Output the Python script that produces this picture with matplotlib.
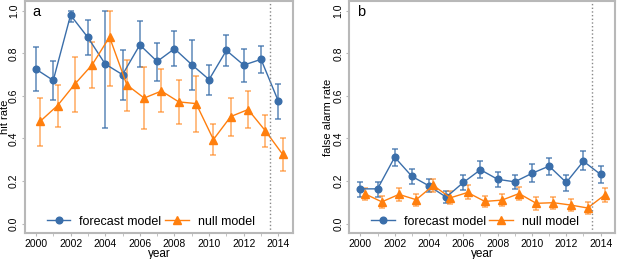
import matplotlib.pyplot as plt
import numpy as np

plt.rcParams.update({'font.family': ['Liberation Sans', 'DejaVu Sans']})

years = np.arange(2000, 2015)

# panel a: hit rate
hit_fc = [0.726, 0.673, 0.98, 0.875, 0.75, 0.70, 0.84, 0.762, 0.822, 0.747, 0.677, 0.814, 0.745, 0.772, 0.575]
hit_fc_hi = [0.83, 0.766, 1.0, 0.956, 1.0, 0.817, 0.95, 0.85, 0.905, 0.861, 0.747, 0.886, 0.822, 0.836, 0.656]
hit_fc_lo = [0.625, 0.58, 0.947, 0.794, 0.45, 0.583, 0.734, 0.672, 0.742, 0.63, 0.606, 0.742, 0.666, 0.708, 0.492]
hit_null = [0.481, 0.555, 0.656, 0.747, 0.877, 0.652, 0.59, 0.623, 0.572, 0.564, 0.395, 0.503, 0.536, 0.436, 0.325]
hit_null_hi = [0.592, 0.65, 0.784, 0.855, 1.0, 0.77, 0.736, 0.727, 0.675, 0.694, 0.467, 0.592, 0.625, 0.508, 0.403]
hit_null_lo = [0.364, 0.456, 0.525, 0.639, 0.645, 0.528, 0.444, 0.523, 0.466, 0.431, 0.322, 0.412, 0.448, 0.361, 0.247]

# panel b: false alarm rate
fa_fc = [0.163, 0.163, 0.312, 0.222, 0.177, 0.124, 0.193, 0.253, 0.208, 0.196, 0.236, 0.27, 0.193, 0.293, 0.231]
fa_fc_hi = [0.196, 0.196, 0.351, 0.258, 0.208, 0.154, 0.227, 0.292, 0.244, 0.23, 0.278, 0.31, 0.23, 0.339, 0.272]
fa_fc_lo = [0.127, 0.127, 0.272, 0.188, 0.146, 0.096, 0.158, 0.216, 0.174, 0.163, 0.196, 0.228, 0.155, 0.252, 0.191]
fa_null = [0.14, 0.102, 0.137, 0.112, 0.179, 0.121, 0.146, 0.104, 0.11, 0.141, 0.095, 0.098, 0.087, 0.073, 0.135]
fa_null_hi = [0.169, 0.129, 0.166, 0.14, 0.208, 0.151, 0.179, 0.13, 0.14, 0.174, 0.124, 0.127, 0.115, 0.102, 0.169]
fa_null_lo = [0.109, 0.075, 0.106, 0.084, 0.149, 0.093, 0.115, 0.078, 0.082, 0.109, 0.065, 0.07, 0.059, 0.047, 0.102]

blue = '#3a6eaa'
orange = '#ff7f0e'
frame = '#b8b8b8'


def panel(ax, fc, fc_lo, fc_hi, nu, nu_lo, nu_hi, ylabel, letter, ylab_x):
    fc = np.array(fc); nu = np.array(nu)
    ax.errorbar(years, fc, yerr=[fc - np.array(fc_lo), np.array(fc_hi) - fc], fmt='none',
                ecolor=blue, alpha=0.75, elinewidth=1.2, capsize=2, capthick=1.2)
    ax.errorbar(years + 0.25, nu, yerr=[nu - np.array(nu_lo), np.array(nu_hi) - nu], fmt='none',
                ecolor=orange, alpha=0.6, elinewidth=1.2, capsize=2, capthick=1.2)
    ax.plot(years, fc, color=blue, lw=1, marker='o', ms=4.8, label='forecast model')
    ax.plot(years + 0.25, nu, color=orange, lw=1, marker='^', ms=5.5, label='null model')
    ax.axvline(2013.5, color='#888888', ls=':', lw=1)
    ax.set_xlim(1999.35, 2014.85)
    ax.set_ylim(-0.045, 1.045)
    ax.set_xticks(np.arange(2000, 2015, 2))
    ax.set_xticks(np.arange(2000, 2015, 1), minor=True)
    ax.set_yticks(np.arange(0, 1.01, 0.2))
    ax.set_yticklabels(['{:.1f}'.format(v) for v in np.arange(0, 1.01, 0.2)], rotation=90, va='center')
    ax.tick_params(axis='both', labelsize=7.5, length=2.5, color=frame, pad=1.5)
    ax.tick_params(axis='x', which='minor', length=2.5, color=frame)
    for s in ax.spines.values():
        s.set_color(frame)
        s.set_linewidth(1.5)
    ax.set_xlabel('year', fontsize=8.5)
    ax.xaxis.set_label_coords(0.5, -0.09)
    ax.xaxis.label.set_va('center')
    ax.set_ylabel(ylabel, fontsize=8)
    ax.yaxis.set_label_coords(ylab_x, 0.5)
    ax.yaxis.label.set_va('center')
    ax.text(0.03, 0.985, letter, transform=ax.transAxes, fontsize=10.5, va='top', ha='left')
    ax.legend(loc='lower left', bbox_to_anchor=(0.04, -0.025), ncol=2, frameon=False, fontsize=9,
              handlelength=1.9, columnspacing=0.3, handletextpad=0.7)


fig = plt.figure(figsize=(6.17, 2.59), dpi=100)
ax1 = fig.add_axes([0.040, 0.10, 0.435, 0.895])
ax2 = fig.add_axes([0.566, 0.10, 0.431, 0.895])
panel(ax1, hit_fc, hit_fc_lo, hit_fc_hi, hit_null, hit_null_lo, hit_null_hi, 'hit rate', 'a', -0.074)
panel(ax2, fa_fc, fa_fc_lo, fa_fc_hi, fa_null, fa_null_lo, fa_null_hi, 'false alarm rate', 'b', -0.08)
plt.savefig('out.png', dpi=100)
